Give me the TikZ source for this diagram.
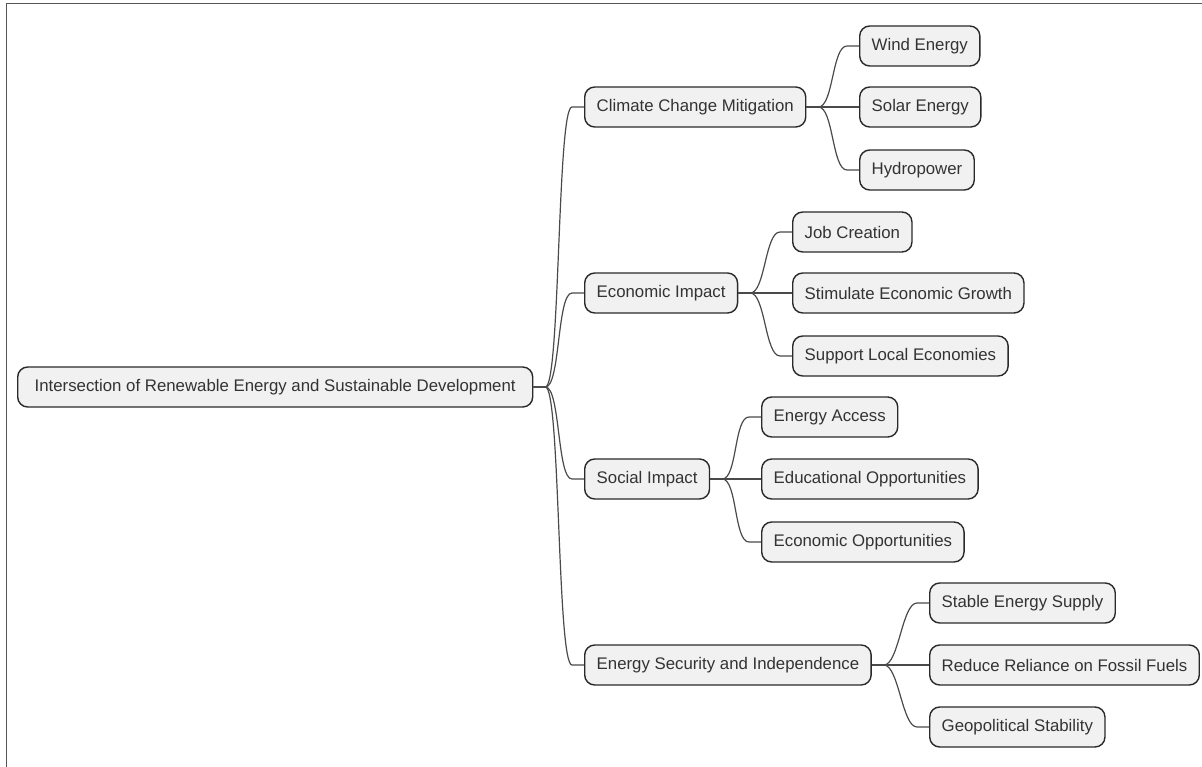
\documentclass[tikz,border=0pt]{standalone}
\usepackage{fontspec}
\setmainfont{Liberation Sans}
\usetikzlibrary{calc}
\definecolor{boxfill}{HTML}{F1F1F1}
\definecolor{boxline}{HTML}{2A2A2A}
\definecolor{linkcol}{HTML}{4A4A4A}
\definecolor{txtcol}{HTML}{333333}
\definecolor{framecol}{HTML}{555555}
\tikzset{
  mmbox/.style={draw=boxline, fill=boxfill, rounded corners=10pt, line width=1.4pt,
    minimum height=40pt, inner xsep=12pt, inner ysep=0pt, anchor=west,
    text=txtcol, font=\fontsize{16.8}{20}\selectfont},
  mmlink/.style={draw=linkcol, line width=1.2pt},
}
\newcommand\mmconnect[2]{\draw[mmlink] (#1.east) -- ++(12,0) .. controls +(15,0) and +(-15,0) .. ($(#2.west)+(-12,0)$) -- (#2.west);}
\begin{document}
\begin{tikzpicture}[x=1pt,y=-1pt]
\useasboundingbox (0,0) rectangle (1202,767);
\draw[framecol, line width=1.5pt] (6.5,767) -- (6.5,3.5) -- (1202,3.5);
% root
\node[mmbox, minimum width=515pt] (root) at (17,387) {Intersection of Renewable Energy and Sustainable Development};
% level 1
\node[mmbox] (cc) at (584,107) {Climate Change Mitigation};
\node[mmbox] (ei) at (584,293) {Economic Impact};
\node[mmbox] (si) at (584,479) {Social Impact};
\node[mmbox] (es) at (584,665) {Energy Security and Independence};
% level 2
\node[mmbox] (wind) at (859,46) {Wind Energy};
\node[mmbox] (solar) at (859,107) {Solar Energy};
\node[mmbox] (hydro) at (859,170) {Hydropower};
\node[mmbox] (job) at (792,232) {Job Creation};
\node[mmbox] (grow) at (792,293) {Stimulate Economic Growth};
\node[mmbox] (local) at (792,356) {Support Local Economies};
\node[mmbox] (access) at (761,417) {Energy Access};
\node[mmbox] (edu) at (761,479) {Educational Opportunities};
\node[mmbox] (eco) at (761,542) {Economic Opportunities};
\node[mmbox] (stable) at (929,603) {Stable Energy Supply};
\node[mmbox] (fossil) at (929,665) {Reduce Reliance on Fossil Fuels};
\node[mmbox] (geo) at (929,727) {Geopolitical Stability};
% connectors
\mmconnect{root}{cc}
\mmconnect{root}{ei}
\mmconnect{root}{si}
\mmconnect{root}{es}
\mmconnect{cc}{wind}
\mmconnect{cc}{solar}
\mmconnect{cc}{hydro}
\mmconnect{ei}{job}
\mmconnect{ei}{grow}
\mmconnect{ei}{local}
\mmconnect{si}{access}
\mmconnect{si}{edu}
\mmconnect{si}{eco}
\mmconnect{es}{stable}
\mmconnect{es}{fossil}
\mmconnect{es}{geo}
\end{tikzpicture}
\end{document}
